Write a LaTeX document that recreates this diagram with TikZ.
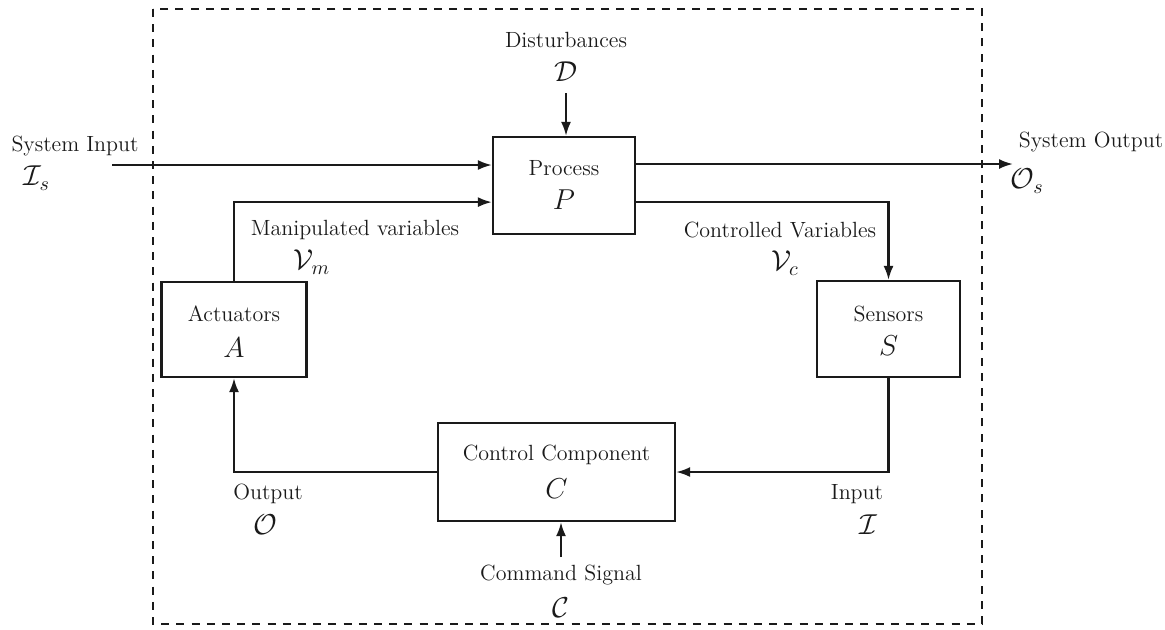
\documentclass[tikz,border=0pt]{standalone}
\usetikzlibrary{arrows.meta,calc}
\definecolor{ink}{HTML}{1A1A1A}
\tikzset{
  blk/.style={draw=ink, line width=1.1pt, inner sep=0pt},
  txt/.style={inner sep=0pt, text=ink, font=\fontsize{11}{13}\selectfont},
  sym/.style={inner sep=0pt, text=ink, font=\fontsize{14.5}{16}\selectfont},
  wire/.style={draw=ink, line width=1.1pt},
  sig/.style={wire, -{Latex[length=7pt,width=5pt]}},
  boundary/.style={draw=ink, line width=1.4pt, dash pattern=on 4pt off 3.6pt}
}
\begin{document}
\begin{tikzpicture}[x=0.5pt,y=-0.5pt]
\useasboundingbox (0,0) rectangle (1165,629);

% system boundary
\draw[boundary] (153,9) rectangle (982,624);

% blocks
\node[blk, minimum width=71pt, minimum height=48.5pt] (proc) at (564,185.5) {};
\node[blk, minimum width=72.5pt, minimum height=47.5pt] (act) at (234,329.5) {};
\node[blk, minimum width=71.5pt, minimum height=48pt] (sen) at (888.5,329) {};
\node[blk, minimum width=118.5pt, minimum height=49pt] (ctrl) at (556.5,472) {};

% block texts
\node[txt] (procT) at (564,168) {Process};
\node[sym] (procS) at (564,200) {$P$};
\node[txt] (actT) at (234,314) {Actuators};
\node[sym] (actS) at (234,348) {$A$};
\node[txt] (senT) at (888.5,314) {Sensors};
\node[sym] (senS) at (888.5,346) {$S$};
\node[txt] (ctrlT) at (556.5,455) {Control Component};
\node[sym] (ctrlS) at (556.5,489) {$C$};

% external signals
\coordinate (dist) at (566,93);
\coordinate (sin) at (112,165);
\coordinate (sout) at (1013,164);
\coordinate (cmd) at (561,557);

\draw[sig] (dist) -- (dist |- proc.north);
\draw[sig] (sin) -- (sin -| proc.west);
\draw[sig] (sout -| proc.east) -- (sout);
\draw[sig] (cmd) -- (cmd |- ctrl.south);

% feedback loop
\draw[sig] (act.north) |- ($(proc.south west)+(0,-33)$);
\draw[sig] ($(proc.south east)+(0,-33)$) -| (sen.north);
\draw[sig] (sen.south) |- (ctrl.east);
\draw[sig] (ctrl.west) -| (act.south);

% signal labels
\node[txt] (distT) at (566,40) {Disturbances};
\node[sym] (distS) at (566,72) {$\mathcal{D}$};
\node[txt] (sinT) at (75,146) {System Input};
\node[sym] (sinS) at (37,178) {$\mathcal{I}_s$};
\node[txt] (soutT) at (1091,142) {System Output};
\node[sym] (soutS) at (1027,181) {$\mathcal{O}_s$};
\node[txt] (mvT) at (355,230) {Manipulated variables};
\node[sym] (mvS) at (312,262) {$\mathcal{V}_m$};
\node[txt] (cvT) at (780,230) {Controlled Variables};
\node[sym] (cvS) at (785,263) {$\mathcal{V}_c$};
\node[txt] (outT) at (268,494) {Output};
\node[sym] (outS) at (265,525) {$\mathcal{O}$};
\node[txt] (inT) at (857,494) {Input};
\node[sym] (inS) at (868,525) {$\mathcal{I}$};
\node[txt] (cmdT) at (561,575) {Command Signal};
\node[sym] (cmdS) at (561,608) {$\mathcal{C}$};
\end{tikzpicture}
\end{document}
